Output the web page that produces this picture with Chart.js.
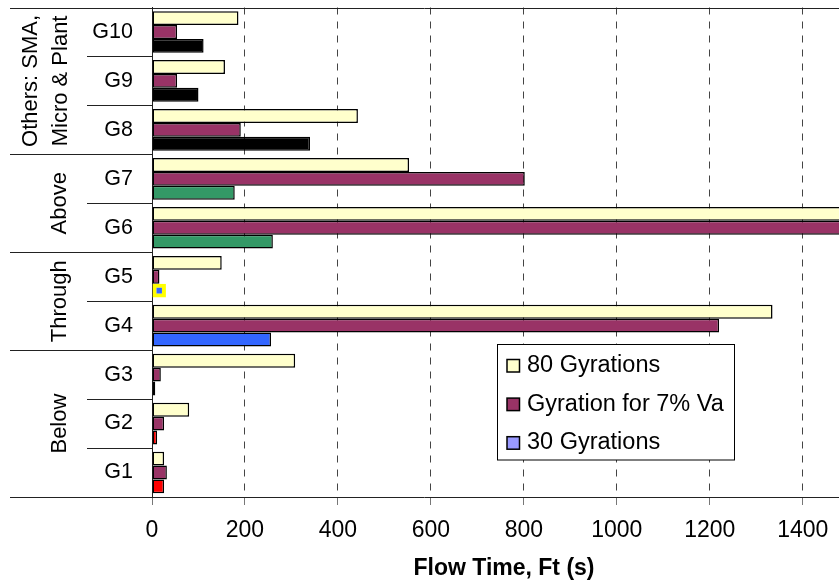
<!DOCTYPE html>
<html lang="en">
<head>
  <meta charset="UTF-8" />
  <title>Flow Time</title>
  <script src="https://cdn.jsdelivr.net/npm/chart.js"></script>
  <style>
    body { margin: 0; background: #fff; }
    #wrap { width: 839px; height: 580px; }
  </style>
</head>
<body>
  <div id="wrap"><canvas id="flowChart" width="839" height="580"></canvas></div>

  <script>
    // data (top to bottom)
    const labels = ['G10', 'G9', 'G8', 'G7', 'G6', 'G5', 'G4', 'G3', 'G2', 'G1'];
    const gyr80 = [186, 157, 443, 553, 1600, 150, 1335, 308, 80, 26];
    const gyrVa = [54, 54, 191, 802, 1560, 16, 1220, 19, 26, 32];
    const gyr30 = [111, 100, 340, 178, 260, 30, 256, 7, 11, 26];
    const seriesNames = ['80 Gyrations', 'Gyration for 7% Va', '30 Gyrations'];
    const groupNames = [['Others: SMA,', 'Micro & Plant'], ['Above'], ['Through'], ['Below']];
    const groupSizes = [3, 2, 2, 3];
    const xTicks = [0, 200, 400, 600, 800, 1000, 1200, 1400];
    const xMax = 1478;

    // colours
    const col80 = '#FFFFCC';
    const colVa = '#993366';
    const col30Legend = '#9999FF';
    const col30 = ['#000000', '#000000', '#000000', '#339966', '#339966',
                   '#3366FF', '#3366FF', '#FF0000', '#FF0000', '#FF0000'];
    const border30 = labels.map((l, i) => i === 5 ? '#FFFF00' : '#000000');
    const bw30 = labels.map((l, i) => i === 5 ? 4 : 1.5);

    const FONT = '"Liberation Sans", Arial, sans-serif';
    Chart.defaults.font.family = FONT;
    Chart.defaults.color = '#000';

    // group labels, separators, legend and axis title
    const decorations = {
      id: 'decorations',
      afterDraw(chart) {
        const ctx = chart.ctx;
        const area = chart.chartArea;
        const y = chart.scales.y;
        const bound = i => (y.getPixelForValue(i) + y.getPixelForValue(i + 1)) / 2;

        ctx.save();
        ctx.strokeStyle = '#222';
        ctx.lineWidth = 1;

        // top and bottom lines
        ctx.beginPath();
        ctx.moveTo(10, Math.round(area.top) + 0.5);
        ctx.lineTo(839, Math.round(area.top) + 0.5);
        ctx.moveTo(10, Math.round(area.bottom) + 0.5);
        ctx.lineTo(839, Math.round(area.bottom) + 0.5);
        ctx.stroke();

        // separators
        let start = 0;
        groupSizes.forEach((n, g) => {
          for (let k = 0; k < n - 1; k++) {
            const py = Math.round(bound(start + k)) + 0.5;
            ctx.beginPath();
            ctx.moveTo(87, py);
            ctx.lineTo(area.left, py);
            ctx.stroke();
          }
          const end = start + n - 1;
          if (end < labels.length - 1) {
            const py = Math.round(bound(end)) + 0.5;
            ctx.beginPath();
            ctx.moveTo(10, py);
            ctx.lineTo(area.left, py);
            ctx.stroke();
          }
          // group label
          const top = start === 0 ? area.top : bound(start - 1);
          const bot = end === labels.length - 1 ? area.bottom : bound(end);
          const cy = (top + bot) / 2;
          const lines = groupNames[g];
          ctx.fillStyle = '#000';
          ctx.font = '22px ' + FONT;
          ctx.textAlign = 'center';
          ctx.textBaseline = 'alphabetic';
          lines.forEach((t, li) => {
            const bx = lines.length === 1 ? 66 : 37 + li * 30;
            ctx.save();
            ctx.translate(bx, cy);
            ctx.rotate(-Math.PI / 2);
            ctx.fillText(t, 0, 0);
            ctx.restore();
          });
          start += n;
        });

        // legend
        const lx = 497.5, ly = 344.5, lw = 237, lh = 115.5;
        ctx.fillStyle = '#fff';
        ctx.fillRect(lx, ly, lw, lh);
        ctx.strokeStyle = '#000';
        ctx.strokeRect(lx, ly, lw, lh);
        const swatch = [col80, colVa, col30Legend];
        ctx.font = '23.5px ' + FONT;
        ctx.textAlign = 'left';
        seriesNames.forEach((name, i) => {
          const rowY = 359.5 + i * 38.6;
          ctx.fillStyle = swatch[i];
          ctx.fillRect(507, rowY, 12.5, 12.5);
          ctx.lineWidth = 1.5;
          ctx.strokeStyle = '#000';
          ctx.strokeRect(507, rowY, 12.5, 12.5);
          ctx.fillStyle = '#000';
          ctx.fillText(name, 527, rowY + 12.5);
        });

        // axis title
        ctx.font = 'bold 23px ' + FONT;
        ctx.textAlign = 'center';
        ctx.fillText('Flow Time, Ft (s)', 504, 574.5);
        ctx.restore();
      }
    };

    const ctx = document.getElementById('flowChart').getContext('2d');
    new Chart(ctx, {
      type: 'bar',
      data: {
        labels: labels,
        datasets: [
          { label: seriesNames[0], data: gyr80, backgroundColor: col80, borderColor: '#000', borderWidth: 1.5 },
          { label: seriesNames[1], data: gyrVa, backgroundColor: colVa, borderColor: '#000', borderWidth: 1.5 },
          { label: seriesNames[2], data: gyr30, backgroundColor: col30, borderColor: border30, borderWidth: bw30 }
        ]
      },
      options: {
        indexAxis: 'y',
        responsive: false,
        animation: false,
        categoryPercentage: 0.85,
        barPercentage: 1,
        datasets: { bar: { borderSkipped: false } },
        layout: { padding: { top: 7.5, left: 0, right: 0, bottom: 0 } },
        plugins: { legend: { display: false }, tooltip: { enabled: false } },
        scales: {
          x: {
            type: 'linear',
            min: 0,
            max: xMax,
            afterFit: s => { s.height = 83; s.paddingLeft = 0; s.paddingRight = 0; },
            afterBuildTicks: s => { s.ticks = xTicks.map(v => ({ value: v })); },
            ticks: {
              stepSize: 200, includeBounds: false, padding: 12,
              font: { size: 23 }, color: '#000',
              callback: v => String(v)
            },
            grid: { color: '#444', lineWidth: 1, tickColor: '#777', tickLength: 8, tickBorderDash: [] },
            border: { display: false, dash: [7, 7] }
          },
          y: {
            type: 'category',
            afterFit: s => { s.width = 152; s.paddingTop = 0; s.paddingBottom = 0; },
            ticks: { padding: 19, font: { size: 21.5 }, color: '#000' },
            grid: { display: false, drawTicks: false },
            border: { display: true, color: '#222', width: 1 }
          }
        }
      },
      plugins: [decorations]
    });
  </script>
</body>
</html>
